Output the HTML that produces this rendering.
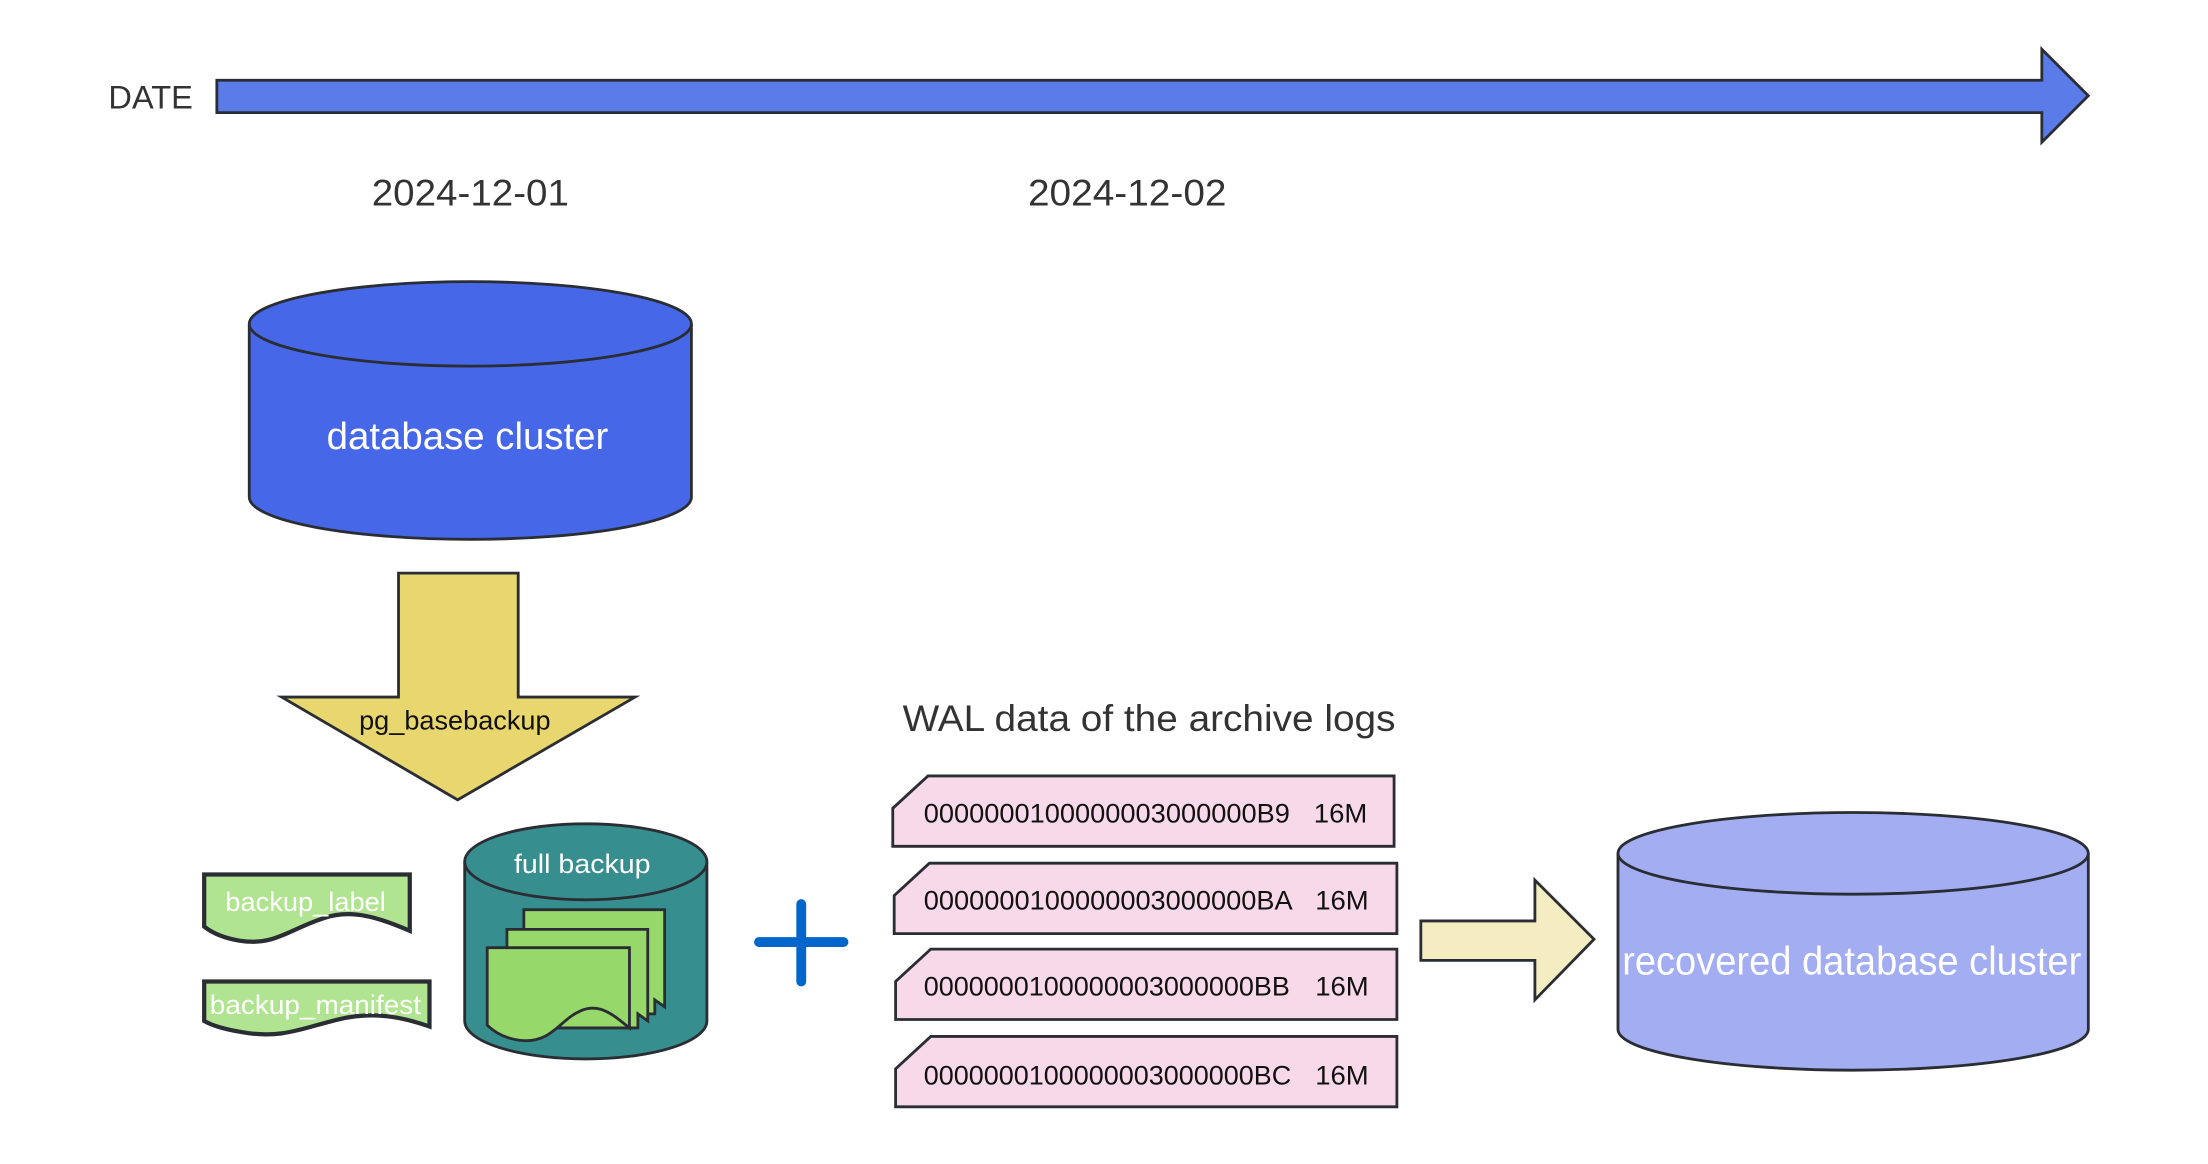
<!DOCTYPE html>
<html><head><meta charset="utf-8"><style>html,body{margin:0;padding:0;background:#fff;width:2208px;height:1164px;overflow:hidden}svg{display:block}</style></head>
<body>
<svg width="2208" height="1164" viewBox="0 0 1568 826.6" preserveAspectRatio="none" xmlns="http://www.w3.org/2000/svg" font-family="Liberation Sans, sans-serif">
<g stroke="#2a2d33" stroke-width="2">
<polygon points="154,57 1450,57 1450,35 1483,68 1450,101 1450,80 154,80" fill="#5a7be8"/>
<path d="M177,230 L177,353 A157,30 0 0 0 491,353 L491,230" fill="#4668e8"/>
<ellipse cx="334" cy="230" rx="157" ry="30" fill="#4668e8"/>
<polygon points="283,407 368,407 368,495 451,495 325,568 200,495 283,495" fill="#e8d66f"/>
<path d="M145,621 L291,621 L291,661 C270,652 250,645 230,652 C205,660 195,672 170,668 C158,666 150,662 145,658 Z" fill="#b0e490" stroke-width="3"/>
<path d="M145,697 L305,697 L305,729 C285,722 265,718 240,724 C215,730 200,738 172,733 C160,731 150,728 145,725 Z" fill="#b0e490" stroke-width="3"/>
<path d="M330,612 L330,725 A86,27 0 0 0 502,725 L502,612" fill="#368e8e"/>
<ellipse cx="416" cy="612" rx="86" ry="27" fill="#368e8e"/>
<path d="M372,646 L472,646 L472,715 L465,710 L465,720 L372,720 Z" fill="#96d96a"/>
<path d="M360,660 L460,660 L460,725 L453,720 L453,730 L360,730 Z" fill="#96d96a"/>
<path d="M346,673 L447,673 L447,730 C435,720 425,712 412,718 C398,724 392,740 372,739 C358,738 350,732 346,728 Z" fill="#96d96a"/>
<polygon points="659,551 990,551 990,601 634,601 634,574" fill="#f8d9ea"/>
<polygon points="660,613 992,613 992,663 635,663 635,636" fill="#f8d9ea"/>
<polygon points="661,674 992,674 992,724 636,724 636,697" fill="#f8d9ea"/>
<polygon points="661,736 992,736 992,786 636,786 636,759" fill="#f8d9ea"/>
<polygon points="1009,654 1090,654 1090,625 1132,667 1090,710 1090,682 1009,682" fill="#f5edc2"/>
<path d="M1149,606 L1149,731 A167,29 0 0 0 1483,731 L1483,606" fill="#a3adf2"/>
<ellipse cx="1316" cy="606" rx="167" ry="29" fill="#a3adf2"/>
</g>
<g stroke="#0066cc" stroke-width="7" stroke-linecap="round"><line x1="569" y1="642" x2="569" y2="697"/><line x1="539" y1="669" x2="599" y2="669"/></g>
<g fill="#333">
<text x="77" y="77" font-size="23" textLength="60" lengthAdjust="spacingAndGlyphs">DATE</text>
<text x="264" y="146" font-size="26" textLength="140" lengthAdjust="spacingAndGlyphs">2024-12-01</text>
<text x="730" y="146" font-size="26" textLength="141" lengthAdjust="spacingAndGlyphs">2024-12-02</text>
<text x="641" y="519" font-size="26" textLength="350" lengthAdjust="spacingAndGlyphs">WAL data of the archive logs</text>
</g>
<g fill="#111" font-size="19">
<text x="255" y="518" textLength="136" lengthAdjust="spacingAndGlyphs">pg_basebackup</text>
<text x="656" y="584" textLength="260" lengthAdjust="spacingAndGlyphs">0000000100000003000000B9</text><text x="933" y="584" textLength="38" lengthAdjust="spacingAndGlyphs">16M</text>
<text x="656" y="646" textLength="262" lengthAdjust="spacingAndGlyphs">0000000100000003000000BA</text><text x="934" y="646" textLength="38" lengthAdjust="spacingAndGlyphs">16M</text>
<text x="656" y="707" textLength="260" lengthAdjust="spacingAndGlyphs">0000000100000003000000BB</text><text x="934" y="707" textLength="38" lengthAdjust="spacingAndGlyphs">16M</text>
<text x="656" y="770" textLength="261" lengthAdjust="spacingAndGlyphs">0000000100000003000000BC</text><text x="934" y="770" textLength="38" lengthAdjust="spacingAndGlyphs">16M</text>
</g>
<g fill="#fff">
<text x="232" y="319" font-size="27" textLength="200" lengthAdjust="spacingAndGlyphs">database cluster</text>
<text x="365" y="620" font-size="19" textLength="97" lengthAdjust="spacingAndGlyphs">full backup</text>
<text x="160" y="647" font-size="19" textLength="114" lengthAdjust="spacingAndGlyphs">backup_label</text>
<text x="149" y="720" font-size="19" textLength="150" lengthAdjust="spacingAndGlyphs">backup_manifest</text>
<text x="1152" y="692" font-size="28" textLength="326" lengthAdjust="spacingAndGlyphs">recovered database cluster</text>
</g>
</svg>
</body></html>
